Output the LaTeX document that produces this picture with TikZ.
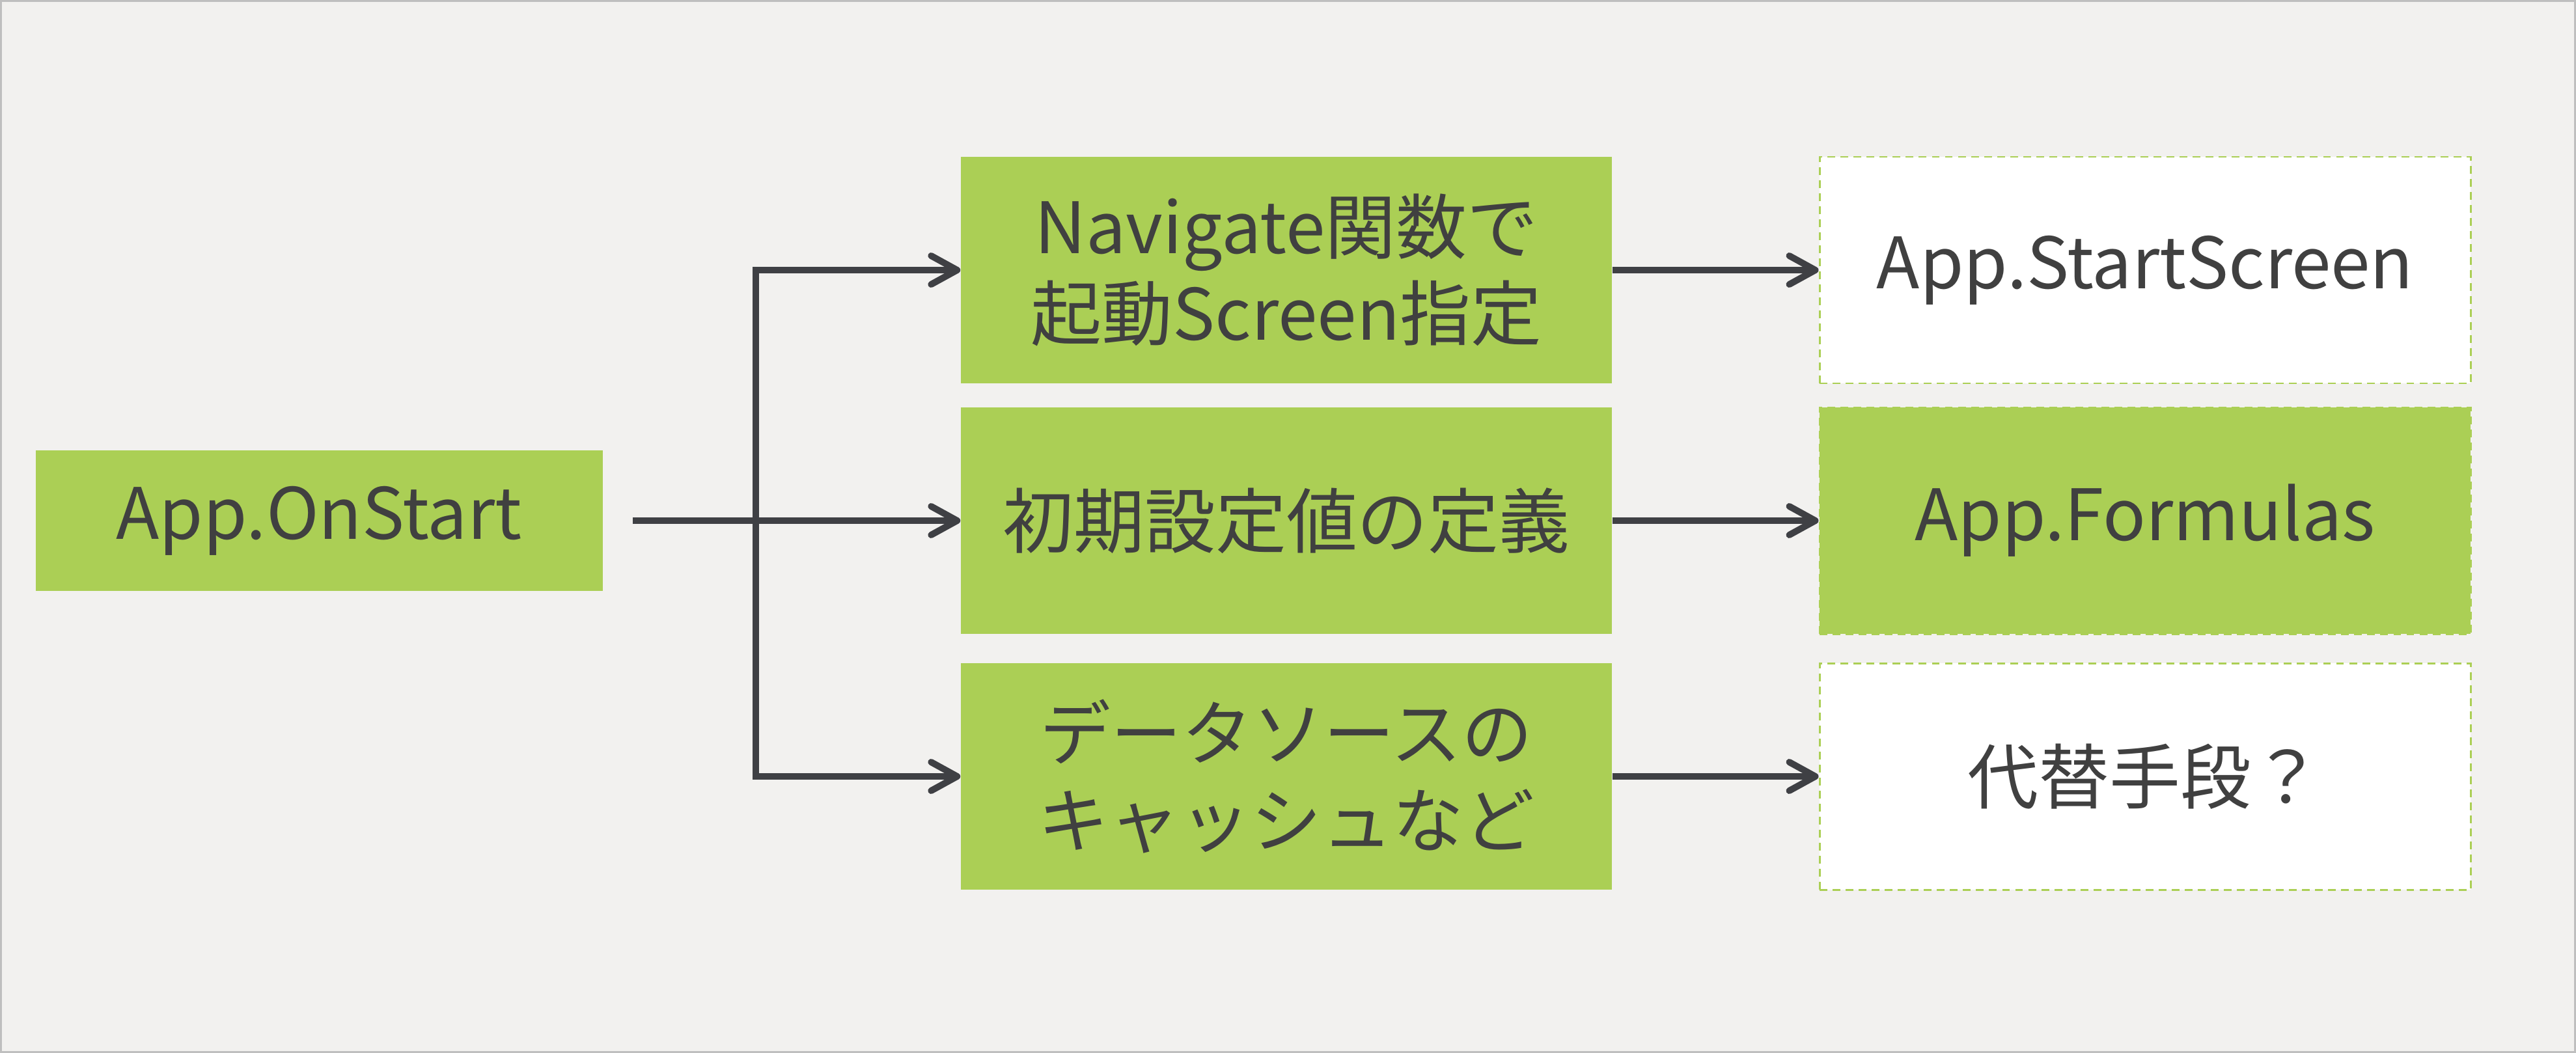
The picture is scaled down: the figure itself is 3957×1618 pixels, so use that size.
\documentclass[tikz,border=0pt]{standalone}
\usepackage{fontspec}
\setmainfont{Noto Sans CJK JP}
\usepackage{tikz}
\usetikzlibrary{arrows.meta,positioning}
\definecolor{appgreen}{HTML}{ABCF55}
\definecolor{apptext}{HTML}{404040}
\definecolor{flowgray}{HTML}{3F4044}
\definecolor{slidebg}{HTML}{F2F1EF}
\definecolor{slideframe}{HTML}{BFBFBF}
\tikzset{stepbox/.style={rectangle,fill=appgreen,draw=none,
 minimum width=10cm,minimum height=3.48cm,inner sep=2pt,text=apptext,
 align=center,font=\fontsize{31}{38}\selectfont},
 startbox/.style={stepbox,minimum width=8.71cm,minimum height=2.16cm},
 target/.style={stepbox,fill=white,draw=appgreen,line width=.85pt,
 dash pattern=on 3.4pt off 2.3pt},
 storebox/.style={target,fill=appgreen},
 flow/.style={draw=flowgray,line width=2.85pt,
 -{Straight Barb[length=4mm,width=4.4mm,round]}}}

\begin{document}
\begin{tikzpicture}[x=0.1mm,y=-0.1mm]
 \useasboundingbox (0,0) rectangle (3957,1618);
 \draw[slideframe,fill=slidebg,line width=.8pt] (1.5,1.5) rectangle (3955.5,1616.5);
 % start and steps
 \node[startbox] (onstart) at (490,800) {App.OnStart};
 \node[stepbox] (navigate) at (1976,415) {Navigate関数で\\起動Screen指定};
 \node[stepbox] (init) at (1976,800) {初期設定値の定義};
 \node[stepbox] (cache) at (1976,1193) {データソースの\\キャッシュなど};
 % where each step goes
 \node[target] (startscreen) at (3295,415) {App.StartScreen};
 \node[storebox] (formulas) at (3295,800) {App.Formulas};
 \node[target] (other) at (3295,1193) {代替手段？};
 \coordinate (fork) at (1161,800);
 \draw[flow,shorten <=4.6mm] (onstart) -- (init);
 \draw[flow] (fork) |- (navigate);
 \draw[flow] (fork) |- (cache);
 \draw[flow] (navigate) -- (startscreen);
 \draw[flow] (init) -- (formulas);
 \draw[flow] (cache) -- (other);
\end{tikzpicture}
\end{document}
